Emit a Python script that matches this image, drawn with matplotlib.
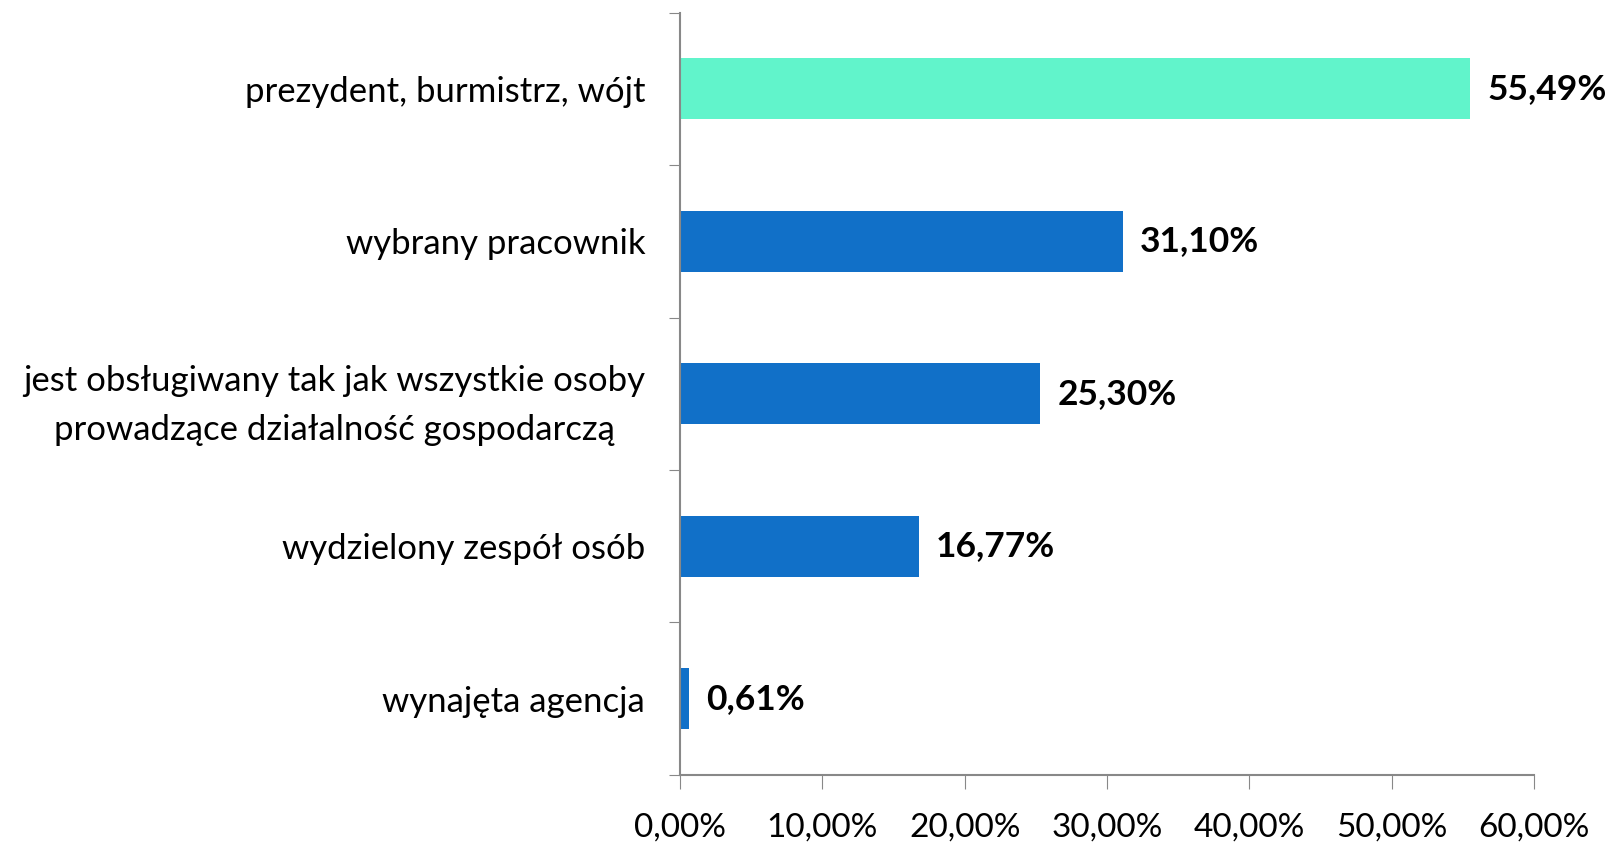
import numpy as np
import matplotlib.pyplot as plt
from matplotlib.ticker import FuncFormatter

categories = ['prezydent, burmistrz, wójt', 'wybrany pracownik',
              'jest obsługiwany tak jak wszystkie osoby\nprowadzące działalność gospodarczą',
              'wydzielony zespół osób', 'wynajęta agencja']
values = [55.49, 31.10, 25.30, 16.77, 0.61]
colors = ['#61F4CB', '#1170C8', '#1170C8', '#1170C8', '#1170C8']

plt.rcParams['font.family'] = ['Lato', 'DejaVu Sans']

fig = plt.figure(figsize=(16.15, 8.44), dpi=100)
ax = fig.add_axes([0.421, 0.082, 0.529, 0.903])

y = np.arange(len(categories))
ax.barh(y, values, height=0.4, color=colors)
for yi, v in zip(y, values):
    ax.text(v + 1.2, yi, f'{v:.2f}%'.replace('.', ','), va='center', ha='left',
            fontsize=25.5, fontweight='bold', color='black')

ax.set_ylim(len(categories) - 0.5, -0.5)
ax.set_xlim(0, 60)
ax.set_yticks(np.arange(-0.5, len(categories), 1))
ax.set_yticklabels([])
ax.set_yticks(y, minor=True)
ax.set_yticklabels(categories, minor=True, fontsize=25)
for lab in ax.get_yticklabels(minor=True):
    lab.set_multialignment('center')
    lab.set_linespacing(1.65)
ax.tick_params(axis='y', which='minor', length=0, pad=25)
ax.tick_params(axis='y', which='major', length=8, color='#888888', direction='out')
ax.set_xticks(np.arange(0, 61, 10))
ax.xaxis.set_major_formatter(FuncFormatter(lambda x, p: f'{x:.2f}%'.replace('.', ',')))
ax.tick_params(axis='x', length=10, color='#888888', labelsize=24, pad=17)

for s in ['top', 'right']:
    ax.spines[s].set_visible(False)
for s in ['left', 'bottom']:
    ax.spines[s].set_color('#888888')
    ax.spines[s].set_linewidth(1.5)

fig.savefig('out.png', dpi=100)
